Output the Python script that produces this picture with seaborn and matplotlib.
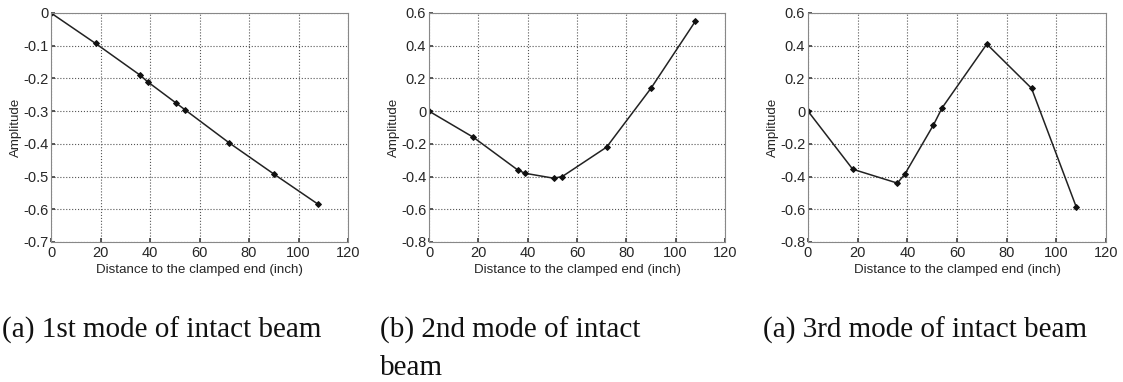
import numpy as np
import pandas as pd
import matplotlib
matplotlib.use("Agg")
import matplotlib.pyplot as plt
import seaborn as sns

# 測定位置 (inch)
positions = [0, 18, 36, 39, 50.5, 54, 72, 90, 108]

# 各モードの振幅
mode1 = [0, -0.093, -0.19, -0.21, -0.275, -0.295, -0.397, -0.492, -0.585]
mode2 = [0, -0.16, -0.36, -0.38, -0.41, -0.40, -0.22, 0.14, 0.55]
mode3 = [0, -0.355, -0.44, -0.385, -0.085, 0.02, 0.41, 0.14, -0.585]

captions = ["(a) 1st mode of intact beam",
            "(b) 2nd mode of intact\nbeam",
            "(a) 3rd mode of intact beam"]
y_ranges = [(-0.7, 0), (-0.8, 0.6), (-0.8, 0.6)]
y_steps = [0.1, 0.2, 0.2]

sns.set_theme(style="ticks")
plt.rcParams['font.family'] = ['Liberation Sans', 'DejaVu Sans']

fig = plt.figure(figsize=(11.23, 3.82), dpi=100)
W, H = 1123, 382

# 各パネルの位置 (ピクセル)
boxes = [(51, 13, 297, 229), (429, 13, 296, 229), (808, 13, 298, 229)]
caption_x = [2, 380, 763]

for i, mode in enumerate([mode1, mode2, mode3]):
    x0, y0, w, h = boxes[i]
    ax = fig.add_axes([x0 / W, 1 - (y0 + h) / H, w / W, h / H])
    df = pd.DataFrame({"x": positions, "y": mode})
    sns.lineplot(data=df, x="x", y="y", ax=ax, color="#222222", linewidth=1.1,
                 marker="D", markersize=3, markeredgecolor="#111111",
                 markerfacecolor="#111111")
    lo, hi = y_ranges[i]
    ax.set_xlim(0, 120)
    ax.set_ylim(lo, hi)
    ax.set_xticks(range(0, 121, 20))
    yt = np.round(np.arange(lo, hi + 1e-9, y_steps[i]), 1)
    ax.set_yticks(yt)
    ax.set_yticklabels([("0" if abs(v) < 1e-9 else f"{v:g}") for v in yt])
    ax.grid(True, linestyle=":", color="#555555", linewidth=0.8)
    ax.tick_params(direction="in", labelsize=10.5, length=3, color="#444444", pad=2)
    ax.tick_params(axis="x", pad=3)
    for s in ax.spines.values():
        s.set_color("#888888")
        s.set_linewidth(0.8)
    ax.set_xlabel("Distance to the clamped end (inch)", fontsize=9.6, labelpad=3)
    ax.set_ylabel("Amplitude", fontsize=9.6, labelpad=1)

    # キャプション (行ごとにベースラインを揃える)
    for k, line in enumerate(captions[i].split("\n")):
        fig.text(caption_x[i] / W, 1 - (338 + 37 * k) / H, line, fontsize=21,
                 family=["Liberation Serif", "DejaVu Serif"], va="baseline",
                 ha="left", color="#111111")

plt.savefig("out.png", dpi=100)
